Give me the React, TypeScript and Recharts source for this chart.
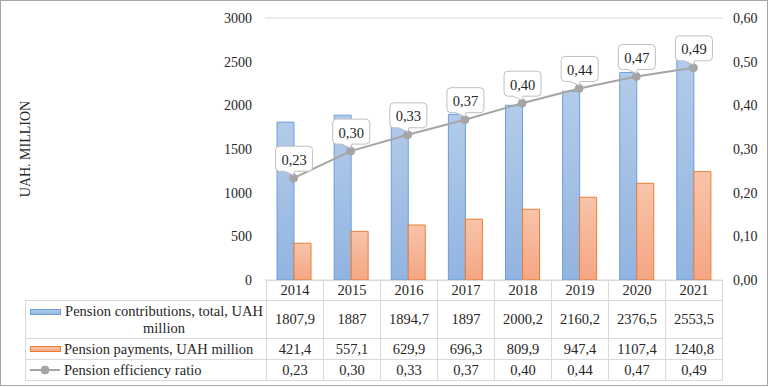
import React from 'react';
import { ComposedChart, Bar, Line, XAxis, YAxis, CartesianGrid, LabelList } from 'recharts';

const years = ['2014', '2015', '2016', '2017', '2018', '2019', '2020', '2021'];
const contributions = [1807.9, 1887, 1894.7, 1897, 2000.2, 2160.2, 2376.5, 2553.5];
const payments = [421.4, 557.1, 629.9, 696.3, 809.9, 947.4, 1107.4, 1240.8];
const efficiency = [0.2331, 0.2952, 0.3325, 0.3671, 0.4049, 0.4386, 0.466, 0.4859];
const leftTicks = [0, 500, 1000, 1500, 2000, 2500, 3000];
const rightTicks = [0, 0.1, 0.2, 0.3, 0.4, 0.5, 0.6];
const seriesNames = [
  'Pension contributions, total, UAH million',
  'Pension payments, UAH million',
  'Pension efficiency ratio',
];
const axisTitle = 'UAH. MILLION';

const data = years.map((year, i) => ({
  year,
  contributions: contributions[i],
  payments: payments[i],
  efficiency: efficiency[i],
}));

const FONT = '"Liberation Serif", "Times New Roman", serif';
const TEXT = '#262626';
const GRID = '#d9d9d9';
const fmtRatio = (v: number) => v.toFixed(2).replace('.', ',');
const fmtNum = (v: number) => String(v).replace('.', ',');

const Callout = (props: any) => {
  const { x, y, value } = props;
  if (x == null || y == null) return null;
  const L = x - 18, R = x + 19, T = y - 32, B = y - 7, r = 4;
  const a = x - 9, b = x + 1;
  const d = `M${L + r},${T} H${R - r} Q${R},${T} ${R},${T + r} V${B - r} Q${R},${B} ${R - r},${B} H${b} L${x},${y - 3} L${a},${B} H${L + r} Q${L},${B} ${L},${B - r} V${T + r} Q${L},${T} ${L + r},${T} Z`;
  return (
    <g>
      <path d={d} fill="#ffffff" stroke="#bfbfbf" strokeWidth={1} />
      <text x={(L + R) / 2} y={(T + B) / 2 + 1} textAnchor="middle" dominantBaseline="central" fontFamily={FONT} fontSize={14.5} fill={TEXT}>
        {fmtRatio(Number(value))}
      </text>
    </g>
  );
};

const cellBorder = `1px solid ${GRID}`;
const cellStyle: React.CSSProperties = { border: cellBorder, textAlign: 'center', padding: 0, verticalAlign: 'middle' };

const BarKey = ({ grad, stroke }: { grad: string; stroke: string }) => (
  <svg width={32} height={7} style={{ display: 'block', flex: '0 0 auto' }}>
    <rect x={0.5} y={0.5} width={30} height={5} fill={`url(#${grad})`} stroke={stroke} strokeWidth={1} />
  </svg>
);
const LineKey = () => (
  <svg width={32} height={10} style={{ display: 'block', flex: '0 0 auto' }}>
    <line x1={0} y1={5} x2={30} y2={5} stroke="#a5a5a5" strokeWidth={2} />
    <circle cx={15} cy={5} r={4} fill="#a5a5a5" stroke="#a5a5a5" />
  </svg>
);

export default function App() {
  return (
    <div style={{ position: 'absolute', left: 0, top: 0, width: 769, height: 387, background: '#fff', fontFamily: FONT }}>
      <svg width={0} height={0} style={{ position: 'absolute' }}>
        <defs>
          <linearGradient id="blueGrad" x1="0" y1="0" x2="0" y2="1">
            <stop offset="0%" stopColor="#b3cbea" />
            <stop offset="100%" stopColor="#92b4e0" />
          </linearGradient>
          <linearGradient id="orangeGrad" x1="0" y1="0" x2="0" y2="1">
            <stop offset="0%" stopColor="#f8c4aa" />
            <stop offset="100%" stopColor="#f4a684" />
          </linearGradient>
        </defs>
      </svg>
      <div style={{ position: 'absolute', left: 0, top: 0, width: 768, height: 386, border: '1px solid #a6a6a6', boxSizing: 'border-box' }} />
      <ComposedChart
        width={769}
        height={387}
        data={data}
        margin={{ top: 18, right: 0, bottom: 107, left: 205 }}
        barGap={0}
        style={{ position: 'absolute', left: 0, top: 0 }}
      >
        <CartesianGrid vertical={false} stroke={GRID} strokeWidth={1} />
        <XAxis dataKey="year" hide />
        <YAxis
          yAxisId="left"
          orientation="left"
          width={60}
          domain={[0, 3000]}
          ticks={leftTicks}
          axisLine={false}
          tickLine={false}
          tickSize={0}
          tickMargin={13}
          tick={{ fill: TEXT, fontSize: 14, fontFamily: FONT }}
        />
        <YAxis
          yAxisId="right"
          orientation="right"
          width={47}
          domain={[0, 0.6]}
          ticks={rightTicks}
          axisLine={false}
          tickLine={false}
          tickSize={0}
          tickMargin={11}
          tickFormatter={fmtRatio}
          tick={{ fill: TEXT, fontSize: 14, fontFamily: FONT }}
        />
        <Bar yAxisId="left" dataKey="contributions" name={seriesNames[0]} barSize={17} fill="url(#blueGrad)" stroke="#6a9ed9" strokeWidth={1} isAnimationActive={false} />
        <Bar yAxisId="left" dataKey="payments" name={seriesNames[1]} barSize={17} fill="url(#orangeGrad)" stroke="#ed7d31" strokeWidth={1} isAnimationActive={false} />
        <Line
          yAxisId="right"
          dataKey="efficiency"
          name={seriesNames[2]}
          stroke="#a5a5a5"
          strokeWidth={2}
          dot={{ r: 4, fill: '#a5a5a5', stroke: '#a5a5a5', strokeWidth: 1 }}
          activeDot={false}
          isAnimationActive={false}
        >
          <LabelList dataKey="efficiency" content={Callout} />
        </Line>
      </ComposedChart>

      <svg width={60} height={387} style={{ position: 'absolute', left: 0, top: 0 }}>
        <text x={30} y={149} transform="rotate(-90 30 149)" textAnchor="middle" fontFamily={FONT} fontSize={14} fill={TEXT}>
          {axisTitle}
        </text>
      </svg>

      <table
        style={{
          position: 'absolute',
          left: 25,
          top: 280,
          borderCollapse: 'collapse',
          tableLayout: 'fixed',
          width: 697,
          fontFamily: FONT,
          fontSize: 14.5,
          color: TEXT,
          lineHeight: '17px',
        }}
      >
        <colgroup>
          <col style={{ width: 241 }} />
          {years.map((y) => (
            <col key={y} style={{ width: 57 }} />
          ))}
        </colgroup>
        <tbody>
          <tr style={{ height: 20 }}>
            <td style={{ padding: 0, border: 'none', borderBottom: cellBorder }} />
            {years.map((y) => (
              <td key={y} style={cellStyle}>{y}</td>
            ))}
          </tr>
          <tr style={{ height: 38 }}>
            <td style={{ ...cellStyle, textAlign: 'left' }}>
              <div style={{ display: 'flex', alignItems: 'flex-start', paddingLeft: 4 }}>
                <div style={{ marginTop: 6, marginRight: 2 }}>
                  <BarKey grad="blueGrad" stroke="#6a9ed9" />
                </div>
                <div style={{ textAlign: 'center', width: 200 }}>{seriesNames[0]}</div>
              </div>
            </td>
            {contributions.map((v, i) => (
              <td key={i} style={cellStyle}>{fmtNum(v)}</td>
            ))}
          </tr>
          <tr style={{ height: 21 }}>
            <td style={{ ...cellStyle, textAlign: 'left' }}>
              <div style={{ display: 'flex', alignItems: 'center', paddingLeft: 4 }}>
                <div style={{ marginRight: 2 }}>
                  <BarKey grad="orangeGrad" stroke="#ed7d31" />
                </div>
                <div>{seriesNames[1]}</div>
              </div>
            </td>
            {payments.map((v, i) => (
              <td key={i} style={cellStyle}>{fmtNum(v)}</td>
            ))}
          </tr>
          <tr style={{ height: 21 }}>
            <td style={{ ...cellStyle, textAlign: 'left' }}>
              <div style={{ display: 'flex', alignItems: 'center', paddingLeft: 4 }}>
                <div style={{ marginRight: 2 }}>
                  <LineKey />
                </div>
                <div>{seriesNames[2]}</div>
              </div>
            </td>
            {efficiency.map((v, i) => (
              <td key={i} style={cellStyle}>{fmtRatio(v)}</td>
            ))}
          </tr>
        </tbody>
      </table>
    </div>
  );
}
